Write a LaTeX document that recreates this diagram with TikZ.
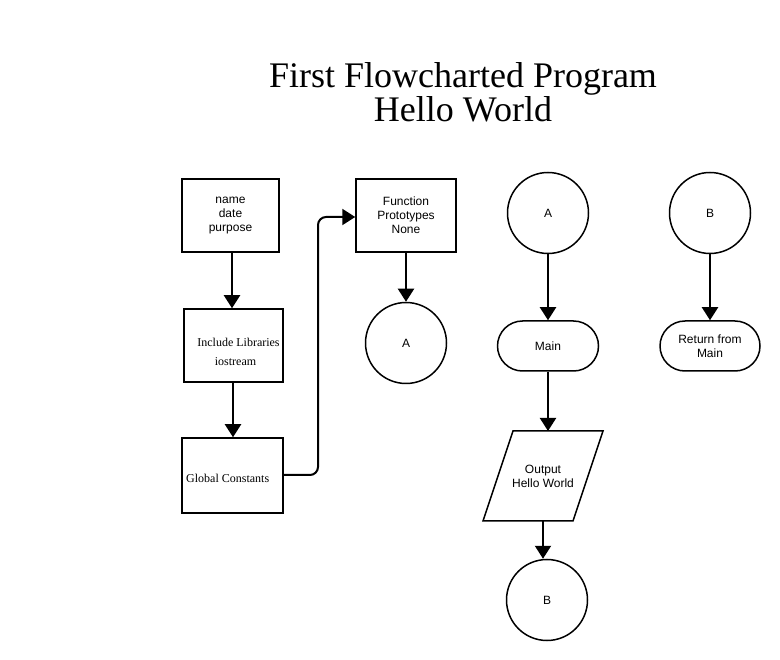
\documentclass[tikz,border=0pt]{standalone}
\usepackage{fontspec}
\setmainfont{Liberation Serif}
\newfontfamily\arialf{Liberation Sans}
\usetikzlibrary{arrows.meta,shapes.geometric,shapes.misc}
\begin{document}
\begin{tikzpicture}[x=1pt,y=-1pt,
  box/.style={draw,line width=1.5pt,minimum width=97pt,minimum height=73pt,inner sep=0pt,font=\arialf\fontsize{12}{14}\selectfont,align=center},
  conn/.style={draw,circle,line width=1.5pt,minimum size=81pt,inner sep=0pt,font=\arialf\fontsize{12}{14}\selectfont},
  term/.style={draw,rounded rectangle,line width=1.5pt,minimum width=101pt,minimum height=50pt,inner sep=0pt,font=\arialf\fontsize{12}{14}\selectfont,align=center},
  lbl/.style={inner sep=0pt,font=\fontsize{12}{14}\selectfont},
  arr/.style={line width=2pt,-{Triangle[width=16pt,length=13pt]}}]
\useasboundingbox (0,0) rectangle (780,660);
\node[font=\fontsize{36}{36}\selectfont,anchor=base] (t1) at (463,88) {First Flowcharted Program};
\node[font=\fontsize{36}{36}\selectfont,anchor=base] (t2) at (463,122) {Hello World};
\node[box] (b1) at (230.5,215.5) {name\\date\\purpose};
\node[box,minimum width=99pt] (b2) at (233.5,345.5) {};
\node[lbl,anchor=base] (inc) at (238.5,347) {Include Libraries};
\node[lbl,anchor=base] (ios) at (235.5,366) {iostream};
\node[box,minimum width=101pt,minimum height=75pt] (b3) at (232.5,475.5) {};
\node[lbl,anchor=base west] (gc) at (186,483) {Global Constants};
\node[box,minimum width=100pt] (b4) at (406,215.5) {Function\\Prototypes\\None};
\node[conn] (a1) at (406,343) {A};
\node[conn] (a2) at (548,213) {A};
\node[conn] (bb1) at (710,213) {B};
\node[term] (main) at (548,346) {Main};
\node[term,minimum width=100pt] (ret) at (710,346) {Return from\\Main};
\coordinate (otop) at (548,431);
\coordinate (obot) at (543,521);
\draw[line width=1.5pt] (513,431) -- (603,431) -- (573,521) -- (483,521) -- cycle;
\node[font=\arialf\fontsize{12}{14}\selectfont,align=center,inner sep=0pt] (out) at (543,476) {Output\\Hello World};
\node[conn] (bb2) at (547,600) {B};
\draw[arr] (b1.south-|232,0) -- (b2.north-|232,0);
\draw[arr] (b2.south-|233,0) -- (b3.north-|233,0);
\draw[arr] (b4) -- (a1);
\draw[arr] (a2) -- (main);
\draw[arr] (bb1) -- (ret);
\draw[arr] (main) -- (otop);
\draw[arr] (obot) -- (bb2.north-|obot);
\draw[line width=2pt,rounded corners=8pt,-{Triangle[width=16pt,length=13pt]}] (b3.east|-0,475) -- (318,475) -- (318,217) -- (b4.west|-0,217);
\end{tikzpicture}
\end{document}
